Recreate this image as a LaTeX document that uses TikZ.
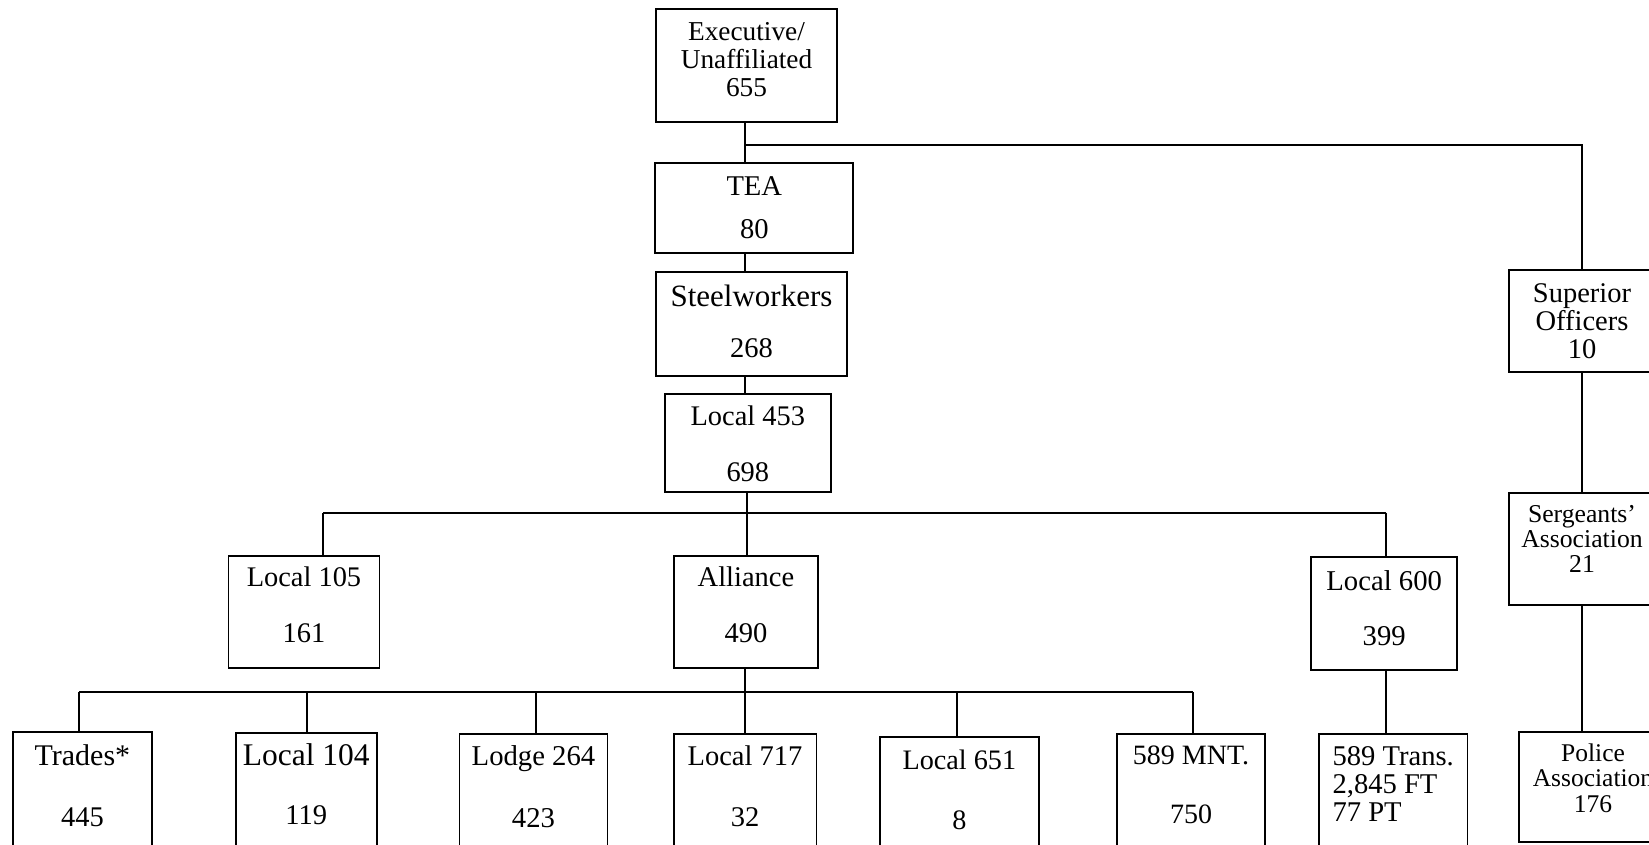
\documentclass[tikz,border=0pt]{standalone}
\usepackage{fontspec}
\setmainfont{Liberation Serif}
\newcommand\bt[2]{\raisebox{#1}[0pt][0pt]{\begin{tabular}[t]{@{}c@{}}#2\end{tabular}}}
\newcommand\btl[2]{\raisebox{#1}[0pt][0pt]{\begin{tabular}[t]{@{}l@{}}#2\end{tabular}}}
\newcommand\nrm{\fontsize{28.5}{28.5}\selectfont}
\tikzset{
  box/.style={draw=black, line width=1.8pt, rectangle, inner sep=0pt},
  txt/.style 2 args={font=\fontsize{#1}{#2}\selectfont},
  conn/.style={draw=black, line width=1.8pt},
}
\begin{document}
\begin{tikzpicture}[x=1pt,y=-1pt]
\useasboundingbox (0,0) rectangle (1649,845);
\clip (0,0) rectangle (1649,845);
\fill[white] (0,0) rectangle (1649,845);

% top chain
\node[box, txt={27.3}{28}, minimum width=181pt, minimum height=113pt] (exec) at (746.5,65.5) {\bt{24.5pt}{Executive/\\Unaffiliated\\655}};
\node[box, txt={28.6}{43.3}, minimum width=198pt, minimum height=89.4pt] (tea) at (754.3,208) {\bt{13pt}{TEA\\80}};
\node[box, txt={31}{51.3}, minimum width=191.6pt, minimum height=104pt] (steel) at (751.5,324) {\bt{18pt}{Steelworkers\\\nrm 268}};
\node[box, txt={28.4}{56}, minimum width=165.7pt, minimum height=98.3pt] (l453) at (747.8,443.2) {\bt{17.5pt}{Local 453\\698}};

% middle row
\node[box, txt={28.4}{56}, minimum width=151pt, minimum height=112.3pt] (l105) at (304,612.2) {\bt{25.5pt}{Local 105\\161}};
\node[box, txt={28.5}{56}, minimum width=144.6pt, minimum height=112.3pt] (alliance) at (746,612.2) {\bt{25.5pt}{Alliance\\490}};
\node[box, txt={28.7}{55.7}, minimum width=146.3pt, minimum height=113pt] (l600) at (1384.2,613.5) {\bt{23.5pt}{Local 600\\399}};

% police column
\node[box, txt={28.5}{27.5}, minimum width=145.4pt, minimum height=101.7pt] (sup) at (1582,320.8) {\bt{18.5pt}{Superior\\Officers\\10}};
\node[box, txt={25.7}{25}, minimum width=145.4pt, minimum height=112.3pt] (serg) at (1582,548.8) {\bt{26.1pt}{Sergeants’\\Association\\21}};
\node[box, txt={25.5}{25.2}, minimum width=148pt, minimum height=110.6pt] (police) at (1593,787) {\bt{25.3pt}{Police\\Association\\176}};

% bottom row
\node[box, txt={30}{60.3}, minimum width=138.8pt, minimum height=118pt] (trades) at (82.4,791) {\bt{25.3pt}{Trades*\\\nrm 445}};
\node[box, txt={31.5}{59}, minimum width=141.3pt, minimum height=117pt] (l104) at (306.3,791.5) {\bt{26.5pt}{Local 104\\\nrm 119}};
\node[box, txt={28.7}{62}, minimum width=148pt, minimum height=116pt] (lodge) at (533.5,792) {\bt{27pt}{Lodge 264\\423}};
\node[box, txt={28.5}{61}, minimum width=142.8pt, minimum height=116pt] (l717) at (745,792) {\bt{26.3pt}{Local 717\\32}};
\node[box, txt={28.2}{60}, minimum width=159.4pt, minimum height=113pt] (l651) at (959.3,793.5) {\bt{24.5pt}{Local 651\\8}};
\node[box, txt={28}{59}, minimum width=148pt, minimum height=116pt] (mnt) at (1191,792) {\bt{27.7pt}{589 MNT.\\750}};
\node[box, txt={28.6}{28}, minimum width=148.5pt, minimum height=116pt] (trans) at (1393.2,792) {\btl{27pt}{589 Trans.\\2,845 FT\\77 PT}};

% junction coordinates
\coordinate (jtop) at (745,145);
\coordinate (jmid) at (747.3,512.7);
\coordinate (j105) at (323,512.7);
\coordinate (j600) at (1386,512.7);
\coordinate (jall) at (745,692);
\coordinate (jl) at (79,692);
\coordinate (j104) at (307.3,692);
\coordinate (j264) at (535.7,692);
\coordinate (j651) at (957,692);
\coordinate (jr) at (1193,692);
\coordinate (jpol) at (1582,700);

% connectors
\draw[conn] (jtop |- exec.south) -- (jtop |- tea.north);
\draw[conn] (jtop) -| (sup.north);
\draw[conn] (jtop |- tea.south) -- (jtop |- steel.north);
\draw[conn] (jtop |- steel.south) -- (jtop |- l453.north);
\draw[conn] (jmid |- l453.south) -- (jmid |- alliance.north);
\draw[conn] (j105) -- (j600);
\draw[conn] (j105) -- (j105 |- l105.north);
\draw[conn] (j600) -- (j600 |- l600.north);
\draw[conn] (jall |- alliance.south) -- (jall);
\draw[conn] (jl) -- (jr);
\draw[conn] (jl) -- (jl |- trades.north);
\draw[conn] (j104) -- (j104 |- l104.north);
\draw[conn] (j264) -- (j264 |- lodge.north);
\draw[conn] (jall) -- (jall |- l717.north);
\draw[conn] (j651) -- (j651 |- l651.north);
\draw[conn] (jr) -- (jr |- mnt.north);
\draw[conn] (j600 |- l600.south) -- (j600 |- trans.north);
\draw[conn] (sup.south) -- (serg.north);
\draw[conn] (jpol |- serg.south) -- (jpol |- police.north);
\end{tikzpicture}
\end{document}
